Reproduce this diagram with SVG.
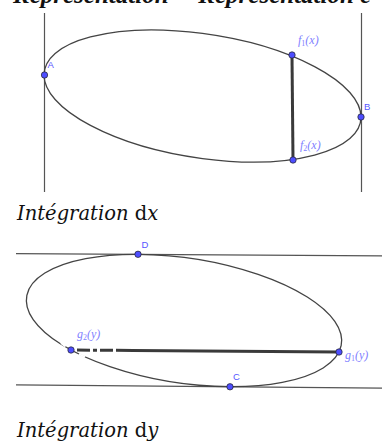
<svg xmlns="http://www.w3.org/2000/svg" width="382" height="443" viewBox="0 0 382 443">
<style>
.ell{fill:none;stroke:#444;stroke-width:1.3;vector-effect:non-scaling-stroke}
.ln{stroke:#555;stroke-width:1.2;fill:none}
.seg{stroke:#3a3a3a;stroke-width:3;fill:none}
.pt{fill:#4d4dff;stroke:#222;stroke-width:0.7}
.lbl{font-family:"Liberation Sans",Arial,sans-serif;font-size:9.5px;fill:#5555ff}
.fl{font-family:"Liberation Serif","Times New Roman",serif;font-style:italic;font-size:12px;fill:#7f7fff}
.sub{font-size:8px;font-style:normal}
.cap{font-family:"DejaVu Serif",serif;font-style:italic;font-size:19.5px;fill:#111}
.up{font-style:normal}
.it{font-style:italic}
.hd{font-family:"Liberation Serif","Times New Roman",serif;font-style:italic;font-weight:bold;font-size:25px;fill:#111}
</style>
<rect width="382" height="443" fill="#fff"/>
<g id="title">
<text class="hd" x="13" y="3">Représentation</text>
<text class="hd" x="190" y="3">-Représentation c</text>
</g>
<g id="connectors">
<line class="ln" x1="44.5" y1="13" x2="44.5" y2="192"/>
<line class="ln" x1="361.5" y1="13" x2="361.5" y2="192"/>
<line class="seg" x1="292" y1="56" x2="293" y2="160"/>
<line class="ln" x1="16" y1="253.6" x2="382" y2="255.8"/>
<line class="ln" x1="16" y1="384.8" x2="382" y2="388.2"/>
<line class="seg" x1="133" y1="350.5" x2="339" y2="352"/>
<line class="seg" x1="71" y1="350" x2="133" y2="350.5" stroke-dasharray="0 6 13 3 4 3 13 3 20"/>
</g>
<g id="ellipse1">
<ellipse class="ell" cx="0" cy="0" rx="1" ry="1" transform="matrix(-158.5,-21,0,62.6,202.5,96)"/>
</g>
<g id="ellipse2">
<ellipse class="ell" cx="0" cy="0" rx="1" ry="1" transform="matrix(-46,-66.2,150.8,0.9,184,320.5)"/>
<line x1="61" y1="343" x2="65.5" y2="346.5" stroke="#fff" stroke-width="2"/>
<line x1="79" y1="354" x2="85" y2="357" stroke="#fff" stroke-width="2"/>
</g>
<g id="A"><circle class="pt" cx="44.5" cy="75" r="3.2"/><text class="lbl" x="47.5" y="68">A</text></g>
<g id="B"><circle class="pt" cx="361" cy="117" r="3.2"/><text class="lbl" x="364" y="110">B</text></g>
<g id="f1"><circle class="pt" cx="292" cy="55" r="3.2"/><text class="fl" x="298" y="44">f<tspan class="sub" dy="2">1</tspan><tspan dy="-2">(x)</tspan></text></g>
<g id="f2"><circle class="pt" cx="293" cy="160" r="3.2"/><text class="fl" x="300" y="149">f<tspan class="sub" dy="2">2</tspan><tspan dy="-2">(x)</tspan></text></g>
<g id="D"><circle class="pt" cx="138" cy="254.3" r="3.2"/><text class="lbl" x="141.5" y="248">D</text></g>
<g id="C"><circle class="pt" cx="230" cy="386.8" r="3.2"/><text class="lbl" x="233" y="380">C</text></g>
<g id="g1"><circle class="pt" cx="339" cy="352" r="3.2"/><text class="fl" x="345" y="359">g<tspan class="sub" dy="2">1</tspan><tspan dy="-2">(y)</tspan></text></g>
<g id="g2"><circle class="pt" cx="71" cy="350" r="3.2"/><text class="fl" x="77" y="338">g<tspan class="sub" dy="2">2</tspan><tspan dy="-2">(y)</tspan></text></g>
<g id="captions">
<text class="cap" x="17" y="220">Intégration <tspan class="up">d</tspan><tspan class="it">x</tspan></text>
<text class="cap" x="17" y="437">Intégration <tspan class="up">d</tspan><tspan class="it">y</tspan></text>
</g>
</svg>
